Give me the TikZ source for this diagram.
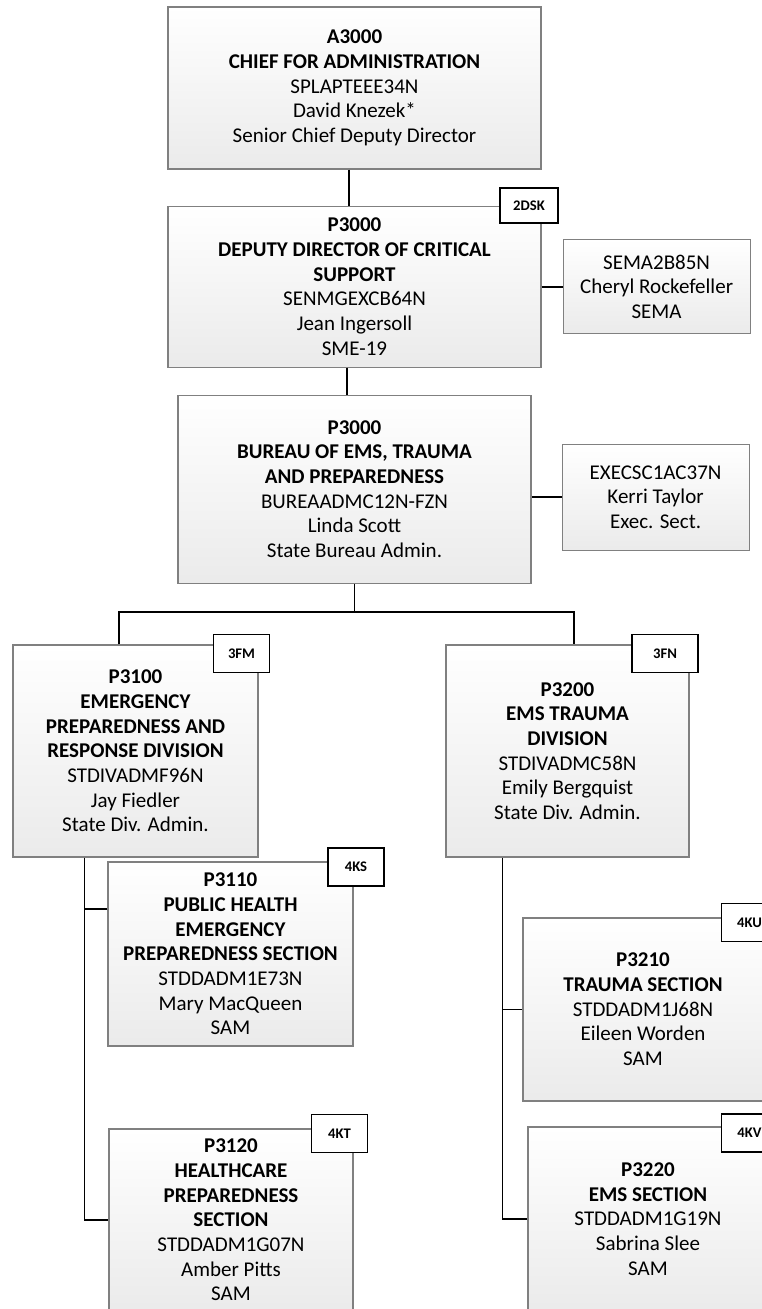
\documentclass[tikz,border=0pt]{standalone}
\usepackage{fontspec}
\setmainfont{Carlito}
\usetikzlibrary{positioning, calc}

\begin{document}
\begin{tikzpicture}[
    x=0.75pt, y=-0.75pt,
    post/.style={draw=black!50, line width=0.8pt, rectangle, top color=white, bottom color=black!8, align=center, inner sep=2pt, font=\fontsize{15.75}{18.5}\selectfont},
    tag/.style={draw=black, line width=1.4pt, rectangle, fill=white, minimum width=42pt, minimum height=28.5pt, inner sep=1pt, font=\bfseries\fontsize{11}{12}\selectfont},
    link/.style={line width=1.4pt}
]
\useasboundingbox (0,0) rectangle (761,1309);

% Posts
\node[post, minimum width=279.75pt, minimum height=121.5pt] (chief) at (354.5,88) {\textbf{A3000}\\ \textbf{CHIEF FOR ADMINISTRATION}\\ SPLAPTEEE34N\\ David Knezek*\\ Senior Chief Deputy Director};
\node[post, minimum width=279.75pt, minimum height=120.75pt, below=27pt of chief] (deputy) {\textbf{P3000}\\ \textbf{DEPUTY DIRECTOR OF CRITICAL}\\ \textbf{SUPPORT}\\ SENMGEXCB64N\\ Jean Ingersoll\\ SME-19};
\node[post, minimum width=140.25pt, minimum height=70.5pt, right=15.75pt of deputy] (sema) {SEMA2B85N\\ Cheryl Rockefeller\\ SEMA};
\node[post, minimum width=264.75pt, minimum height=141pt, below=20.25pt of deputy] (bureau) {\textbf{P3000}\\ \textbf{BUREAU OF EMS, TRAUMA}\\ \textbf{AND PREPAREDNESS}\\ BUREAADMC12N-FZN\\ Linda Scott\\ State Bureau Admin.};
\node[post, minimum width=140.25pt, minimum height=79.5pt, right=22.5pt of bureau, yshift=-6pt] (exec) {EXECSC1AC37N\\ Kerri Taylor\\ Exec. Sect.};
\node[post, minimum width=183.75pt, minimum height=159pt] (epr) at (135.5,751) {\textbf{P3100}\\ \textbf{EMERGENCY}\\ \textbf{PREPAREDNESS AND}\\ \textbf{RESPONSE DIVISION}\\ STDIVADMF96N\\ Jay Fiedler\\ State Div. Admin.};
\node[post, minimum width=182.25pt, minimum height=159pt] (ems) at (567.5,751) {\textbf{P3200}\\ \textbf{EMS TRAUMA}\\ \textbf{DIVISION}\\ STDIVADMC58N\\ Emily Bergquist\\ State Div. Admin.};
\node[post, minimum width=183.75pt, minimum height=138pt] (phep) at (230.5,954) {\textbf{P3110}\\ \textbf{PUBLIC HEALTH}\\ \textbf{EMERGENCY}\\ \textbf{PREPAREDNESS SECTION}\\ STDDADM1E73N\\ Mary MacQueen\\ SAM};
\node[post, minimum width=183pt, minimum height=136.5pt] (hcp) at (231,1220) {\textbf{P3120}\\ \textbf{HEALTHCARE}\\ \textbf{PREPAREDNESS}\\ \textbf{SECTION}\\ STDDADM1G07N\\ Amber Pitts\\ SAM};
\node[post, minimum width=180pt, minimum height=137.25pt] (trauma) at (643,1009.5) {\textbf{P3210}\\ \textbf{TRAUMA SECTION}\\ STDDADM1J68N\\ Eileen Worden\\ SAM};
\node[post, minimum width=180pt, minimum height=138pt] (emssec) at (648,1219) {\textbf{P3220}\\ \textbf{EMS SECTION}\\ STDDADM1G19N\\ Sabrina Slee\\ SAM};

% Tags
\node[tag, minimum width=43.5pt, minimum height=26.25pt] (t2dsk) at (529,205.5) {2DSK};
\node[tag] (t3fm) at (241.5,653.5) {3FM};
\node[tag, minimum width=49.5pt] (t3fn) at (665,653.5) {3FN};
\node[tag] (t4ks) at (356,867) {4KS};
\node[tag] (t4kt) at (339.5,1133.5) {4KT};
\node[tag] (t4ku) at (749.5,922.5) {4KU};
\node[tag] (t4kv) at (749.5,1133) {4KV};

% Lines
\coordinate (topdrop) at ([xshift=-4pt]chief.south);
\draw[link] (topdrop) -- (topdrop |- deputy.north);
\draw[link] (deputy.east) -- (deputy.east -| sema.west);
\coordinate (middrop) at ([xshift=-5.5pt]deputy.south);
\draw[link] (middrop) -- (middrop |- bureau.north);
\draw[link] (exec.west) -- (exec.west -| bureau.east);
\coordinate[below=21pt of bureau.south] (split);
\draw[link] (bureau.south) -- (split);
\draw[link] ([xshift=-12.4pt]epr.north) |- (split) -| ([xshift=4.9pt]ems.north);
\coordinate (lrail) at ([xshift=54pt]epr.south west);
\coordinate (rrail) at ([xshift=42.75pt]ems.south west);
\draw[link] (lrail) |- (hcp.west);
\draw[link] ([yshift=33.75pt]phep.west) -| (lrail);
\draw[link] (rrail) |- (emssec.west);
\draw[link] (trauma.west) -| (rrail);

\end{tikzpicture}
\end{document}
